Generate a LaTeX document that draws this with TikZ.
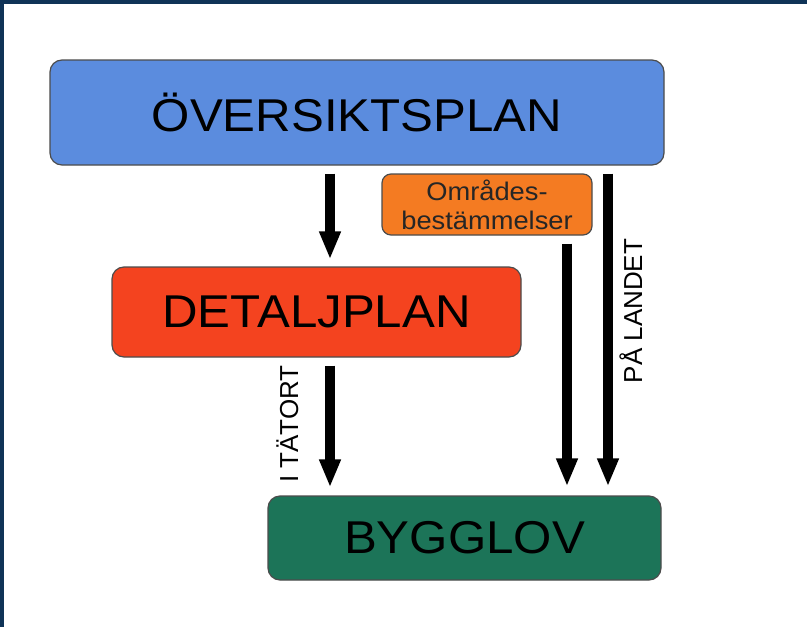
\documentclass[tikz,border=0pt]{standalone}
\usepackage{fontspec}
\setmainfont{Liberation Sans}
\newfontfamily\widefont[FakeStretch=1.07]{Liberation Sans}
\usetikzlibrary{arrows.meta}

\definecolor{planblue}{HTML}{5B8CDE}
\definecolor{planred}{HTML}{F4431F}
\definecolor{planorange}{HTML}{F47B22}
\definecolor{plangreen}{HTML}{1C7458}
\definecolor{frame}{HTML}{0F3357}

\tikzset{
  box/.style={draw=black!70, line width=1.2pt, rounded corners=12pt,
    minimum width=#1, inner sep=0pt, font=\widefont\fontsize{46}{46}\selectfont},
  pil/.style={line width=10pt, -{Triangle[length=28pt,width=20pt]}},
  side/.style={rotate=90, anchor=base, inner sep=0pt, font=\fontsize{26}{26}\selectfont}
}

\begin{document}
\begin{tikzpicture}[x=1pt,y=-1pt]
  \useasboundingbox (0,0) rectangle (807,627);
  \fill[frame] (0,0) rectangle (807,627);
  \fill[white] (4,4) rectangle (807,627);

  \node[box=614pt, minimum height=105pt, fill=planblue] (oversikt) at (357,112.5) {ÖVERSIKTSPLAN};
  \node[box=210pt, minimum height=61pt, fill=planorange, rounded corners=9pt,
    align=center, font=\widefont\fontsize{25.5}{29}\selectfont, text=black!85] (omrade) at (487,204.5) {Områdes-\\bestämmelser};
  \node[box=409pt, minimum height=90pt, fill=planred] (detalj) at (316.5,312) {DETALJPLAN};
  \node[box=393pt, minimum height=84pt, fill=plangreen] (bygglov) at (464.5,538) {BYGGLOV};

  \coordinate (xa) at (330,0);
  \coordinate (xb) at (567,0);
  \coordinate (xc) at (608,0);

  \draw[pil, shorten <=8pt, shorten >=7pt] (oversikt.south -| xa) -- (detalj.north -| xa);
  \draw[pil, shorten <=8pt, shorten >=8pt] (detalj.south -| xa) -- (bygglov.north -| xa);
  \draw[pil, shorten <=8pt, shorten >=9pt] (omrade.south -| xb) -- (bygglov.north -| xb);
  \draw[pil, shorten <=8pt, shorten >=9pt] (oversikt.south -| xc) -- (bygglov.north -| xc);

  \node[side] (tatort) at (298,424) {I TÄTORT};
  \node[side] (landet) at (642,311) {PÅ LANDET};
\end{tikzpicture}
\end{document}
